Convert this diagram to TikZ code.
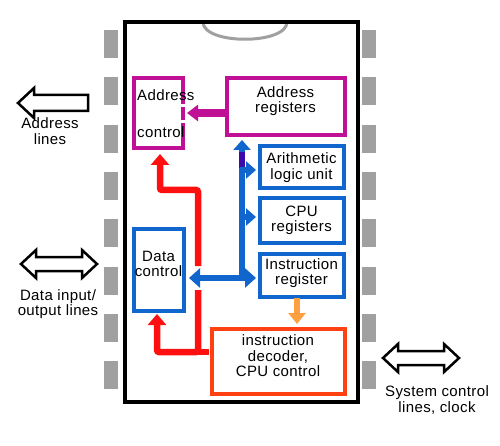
\documentclass[tikz,border=0pt]{standalone}
\usepackage{fontspec}
\setmainfont{Liberation Sans}[LetterSpace=2.5]
\usetikzlibrary{arrows.meta}
\definecolor{mag}{RGB}{192,16,150}
\definecolor{cblue}{RGB}{16,102,204}
\definecolor{indig}{RGB}{60,10,170}
\definecolor{cred}{RGB}{255,16,16}
\definecolor{dec}{RGB}{255,64,16}
\definecolor{orng}{RGB}{255,160,64}
\definecolor{pingray}{RGB}{160,160,160}
\newcommand{\lblfont}{\fontsize{15}{15.5}\selectfont}
\begin{document}
\begin{tikzpicture}[x=1pt,y=-1pt,
  lbl/.style={inner sep=0pt,align=center,font=\lblfont},
  magbox/.style={draw=mag,line width=4pt,inner sep=0pt},
  bluebox/.style={draw=cblue,line width=4pt,inner sep=0pt},
  decbox/.style={draw=dec,line width=4pt,inner sep=0pt},
  hollow/.style={draw=black,line width=2.5pt,line join=miter,fill=white},
  bluebus/.style={draw=cblue,line width=5.5pt},
  redbus/.style={draw=cred,line width=6.5pt,rounded corners=2pt},
  bhead/.style={-{Triangle[width=17pt,length=10pt]}},
]
\useasboundingbox (0,0) rectangle (500,446);
% pins
\foreach \i in {0,...,7}{
  \fill[pingray] (104,{30+47.3*\i}) rectangle (118,{58+47.3*\i});
  \fill[pingray] (362,{30+47.3*\i}) rectangle (376,{58+47.3*\i});
}
% notch
\draw[pingray,line width=3pt] (203,22) .. controls (203,45) and (287,45) .. (287,22);
% chip body
\draw[line width=4pt] (124.5,22) rectangle (357.5,402);

% address control (right edge broken where the arrow enters)
\node[inner sep=0pt,minimum width=50pt,minimum height=70pt] (actl) at (158.25,113.5) {};
\draw[mag,line width=4pt] (183,104) -- (183,78.5) -- (133.5,78.5) -- (133.5,148.5) -- (183,148.5) -- (183,123);
\draw[mag,line width=4pt] (183,107) -- (183,120);
\node[lbl,anchor=west] (actlA) at (137,95) {Address};
\node[lbl,anchor=west] (actlB) at (137,132) {control};

% address registers
\node[magbox,minimum width=118pt,minimum height=57pt] (areg) at (285.5,107) {};
\node[lbl] (aregt) at (285.5,101) {Address\\registers};

% blue boxes
\node[bluebox,minimum width=84pt,minimum height=42pt] (alu) at (301.5,167.5) {};
\node[lbl] at (alu) {Arithmetic\\logic unit};
\node[bluebox,minimum width=84pt,minimum height=44pt] (cpur) at (301.5,220.5) {};
\node[lbl] at (cpur) {CPU\\registers};
\node[bluebox,minimum width=84pt,minimum height=43pt] (ireg) at (301.5,275) {};
\node[lbl] at (301.5,273) {Instruction\\register};
\node[bluebox,minimum width=50pt,minimum height=81pt] (dctl) at (158.5,270) {};
\node[lbl] at (158.5,264) {Data\\control};

% decoder
\node[decbox,minimum width=133pt,minimum height=65pt] (idec) at (278,361) {};
\node[lbl] at (278,356) {instruction\\decoder,\\CPU control};

% magenta arrow
\draw[mag,line width=8pt,-{Triangle[width=16pt,length=11pt]}] (areg.west) ++(0,6) coordinate (am1) -- (187,113);

% blue bus
\coordinate (btop) at (242,140);
\coordinate (bmid) at (242,168);
\coordinate (bbot) at (242,280.5);
\draw[bluebus] (bmid) -- (bbot);
\draw[indig,line width=5.5pt] (242,149) -- (bmid);
\draw[cblue,line width=5.5pt,bhead] (242,152) -- (btop);
\draw[bluebus,{Triangle[width=19pt,length=11pt]}-{Triangle[width=19pt,length=11pt]}] (189,278) -- (256,278);
\draw[bluebus,bhead] (240,170) -- (256,170);
\draw[bluebus,bhead] (240,217) -- (256,217);

% red control lines
\draw[redbus,-{Triangle[width=18pt,length=11pt]}] (198,266) -- (198,190) -- (160,190) -- (160,154);
\draw[redbus,-{Triangle[width=18pt,length=11pt]}] (198,290) -- (198,352) -- (157,352) -- (157,314);
\draw[cred,line width=6.5pt] (196,352) -- (209,352);

% orange arrow
\draw[orng,line width=6.5pt,-{Triangle[width=17pt,length=11pt]}] (297,298) -- (297,324);

% external hollow arrows
\draw[hollow] (18,103) -- (34,88) -- (34,95) -- (88,95) -- (88,111) -- (34,111) -- (34,118) -- cycle;
\node[lbl] (alab) at (50,131) {Address\\lines};
\draw[hollow] (21,264) -- (36,250) -- (36,257) -- (82,257) -- (82,250) -- (97,264) -- (82,278) -- (82,271) -- (36,271) -- (36,278) -- cycle;
\node[lbl] (dlab) at (58,304) {Data input/\\output lines};
\draw[hollow] (383,358) -- (398,344) -- (398,351) -- (444,351) -- (444,344) -- (459,358) -- (444,372) -- (444,365) -- (398,365) -- (398,372) -- cycle;
\node[lbl] (slab) at (437,400) {System control\\lines, clock};
\end{tikzpicture}
\end{document}
